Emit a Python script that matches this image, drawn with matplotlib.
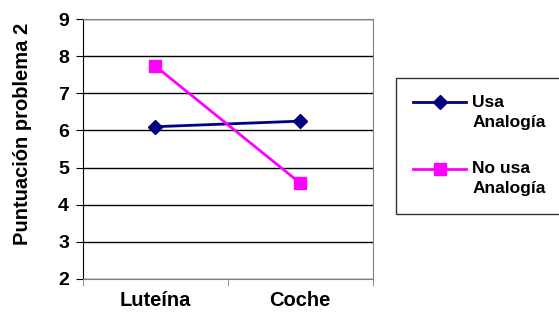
import matplotlib.pyplot as plt
import numpy as np

categories = ["Luteína", "Coche"]
usa_analogia = [6.1, 6.25]
no_usa_analogia = [7.73, 4.58]
series_labels = ["Usa\nAnalogía", "No usa\nAnalogía"]

plt.rcParams['font.family'] = ['Liberation Sans', 'DejaVu Sans']
plt.rcParams['font.weight'] = 'bold'

fig = plt.figure(figsize=(5.59, 3.12), dpi=100)
ax = fig.add_axes([0.1485, 0.106, 0.518, 0.833])

x = np.arange(len(categories))
l1, = ax.plot(x, usa_analogia, color='#000080', marker='D', markersize=7, lw=2, label=series_labels[0])
l2, = ax.plot(x, no_usa_analogia, color='#FF00FF', marker='s', markersize=9, lw=2, label=series_labels[1])

ax.set_xlim(-0.5, 1.5)
ax.set_ylim(2, 9)
ax.set_yticks(range(2, 10))
ax.yaxis.grid(True, color='black', lw=1)
ax.set_axisbelow(True)
ax.set_xticks(x)
ax.set_xticklabels(categories, fontsize=14.5, fontweight='bold')
ax.set_xticks([-0.5, 0.5, 1.5], minor=True)
ax.tick_params(axis='x', which='major', length=0, pad=9)
ax.tick_params(axis='x', which='minor', length=5, color='#808080')
ax.tick_params(axis='y', labelsize=14, length=5, pad=5)
for lab in ax.get_yticklabels():
    lab.set_fontweight('bold')
ax.set_ylabel("Puntuación problema 2", fontsize=14.5, fontweight='bold')
ax.yaxis.set_label_coords(-0.176, 0.56)

for s in ['top', 'right']:
    ax.spines[s].set_color('#808080')
ax.spines['bottom'].set_color('#808080')
ax.spines['left'].set_color('black')

leg = fig.legend(handles=[l1, l2], loc='upper left', bbox_to_anchor=(396 / 559, 1 - 78 / 312),
                 frameon=True, fancybox=False, edgecolor='black',
                 handlelength=3.05, handleheight=1.1, handletextpad=0.35, labelspacing=1.8,
                 borderpad=1.0, borderaxespad=0, prop={'weight': 'bold', 'size': 12.5})
leg.get_frame().set_linewidth(1)
for t in leg.get_texts():
    t.set_linespacing(1.4)
# key line level with the first text line, as in the original
for col in leg._legend_handle_box.get_children():
    for row in col.get_children():
        row.align = 'top'

fig.savefig('out.png', dpi=100)
